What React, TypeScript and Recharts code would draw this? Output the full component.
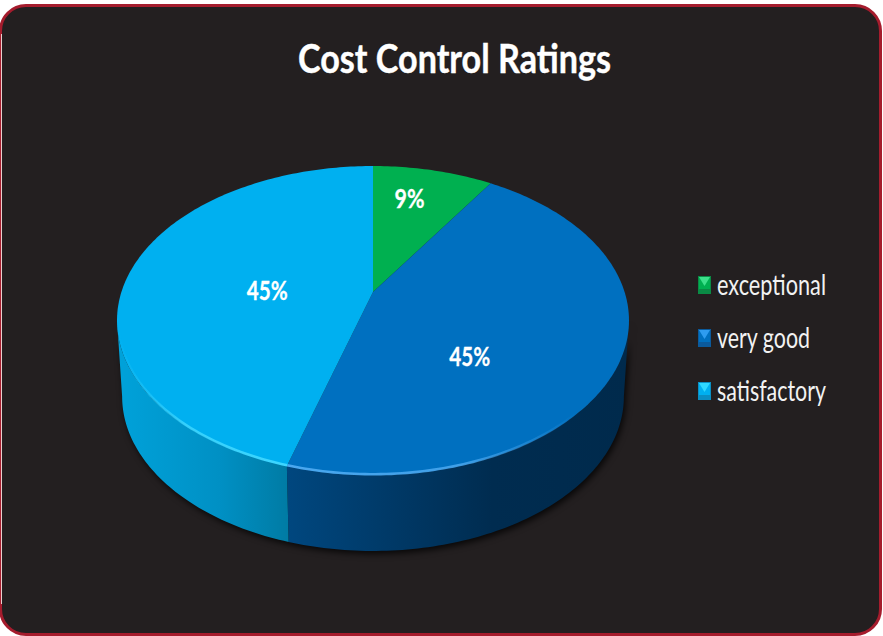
import React from "react";
import { PieChart, Pie, Legend } from "recharts";

const categories = ["exceptional", "very good", "satisfactory"];
const values = [1, 5, 5];
const sliceColors = ["#00B050", "#0070C0", "#00B0F0"];
const wallStops = [
  ["#007A38", "#005A2A", "#004A22"],
  ["#00477F", "#002C50", "#002A4C"],
  ["#00A2DA", "#0090C4", "#007BA4"],
];
const rimColors = ["#00B050", "#4AA8F0", "#3DD6FF"];
const keyLight = ["#3CE08A", "#2E9CF0", "#2FD8FF"];
const keyDark = ["#0A8A45", "#0B5A9C", "#0A8FC4"];
const legendTextWidths = [109, 93, 109];
const labelNudges = [
  [7, -35],
  [-10, 35],
  [5, 7],
];

const rows = categories.map((name, i) => ({ name, value: values[i], fill: sliceColors[i] }));

const CX = 373;
const CY = 292;
const RADIUS = 251.6;
const TILT = 0.593;
const PERSP = 0.1845;
const DEPTH = 76;
const SHRINK = 0.98;
const FRONT_FROM = 100.6;
const FRONT_TO = 259.4;
const FONT = "Lato, 'Open Sans', sans-serif";

function project(cx: number, cy: number, r: number, thetaDeg: number, f = 1) {
  const t = (thetaDeg * Math.PI) / 180;
  const u = Math.cos(t) * f;
  const v = Math.sin(t) * f;
  const d = 1 + PERSP * u;
  return { x: cx + (r * v) / d, y: cy - (r * TILT * u) / d };
}

function arc(cx: number, cy: number, r: number, a: number, b: number) {
  const pts: { x: number; y: number }[] = [];
  const n = Math.max(2, Math.ceil(Math.abs(b - a)));
  for (let i = 0; i <= n; i++) pts.push(project(cx, cy, r, a + ((b - a) * i) / n));
  return pts;
}

const toD = (pts: { x: number; y: number }[]) =>
  pts.map((p, i) => `${i ? "L" : "M"}${p.x.toFixed(2)} ${p.y.toFixed(2)}`).join(" ");

function WallShape(props: any) {
  const { cx, cy, outerRadius, startAngle, endAngle, index } = props;
  const a = Math.max(90 - startAngle, FRONT_FROM);
  const b = Math.min(90 - endAngle, FRONT_TO);
  if (b <= a) return <g />;
  const top = arc(cx, cy, outerRadius, a, b);
  const bottom = top
    .map((p) => ({ x: cx + (p.x - cx) * SHRINK, y: p.y + DEPTH }))
    .reverse();
  const id = `wall-${index}`;
  const stops = wallStops[index];
  return (
    <g>
      <defs>
        <linearGradient id={id} x1="0" y1="0" x2="1" y2="0">
          <stop offset="0%" stopColor={stops[0]} />
          <stop offset="60%" stopColor={stops[1]} />
          <stop offset="100%" stopColor={stops[2]} />
        </linearGradient>
      </defs>
      <path d={`${toD(top)} ${toD(bottom).replace("M", "L")} Z`} fill={`url(#${id})`} stroke="none" />
    </g>
  );
}

function TopShape(props: any) {
  const { cx, cy, outerRadius, startAngle, endAngle, fill, index } = props;
  const a = 90 - startAngle;
  const b = 90 - endAngle;
  const edge = arc(cx, cy, outerRadius, a, b);
  const d = `M${cx} ${cy} ${toD(edge).replace("M", "L")} Z`;
  const rimFrom = index === 1 ? 135 : a;
  const rimTo = index === 2 ? 258 : b;
  const rim = index === 0 ? null : arc(cx, cy, outerRadius - 1, rimFrom, rimTo);
  const id = `rim-${index}`;
  return (
    <g>
      <defs>
        <linearGradient id={id} x1={index === 1 ? "1" : "0"} y1="0" x2={index === 1 ? "0" : "1"} y2="0">
          <stop offset="0%" stopColor={rimColors[index]} stopOpacity={0} />
          <stop offset="40%" stopColor={rimColors[index]} stopOpacity="0.85" />
          <stop offset="100%" stopColor={rimColors[index]} stopOpacity="1" />
        </linearGradient>
        <filter id="rim-blur" x="-5%" y="-5%" width="110%" height="110%">
          <feGaussianBlur stdDeviation="0.7" />
        </filter>
      </defs>
      <path d={d} fill={fill} stroke="none" />
      {rim && <path d={toD(rim)} fill="none" stroke={`url(#${id})`} strokeWidth={2.6} filter="url(#rim-blur)" />}
    </g>
  );
}

function PercentLabel(props: any) {
  const { cx, cy, outerRadius, midAngle, percent, index } = props;
  const p = project(cx, cy, outerRadius, 90 - midAngle, 0.45);
  const [dx, dy] = labelNudges[index];
  return (
    <text
      x={p.x + dx}
      y={p.y + dy}
      textAnchor="middle"
      dominantBaseline="central"
      fill="#FFFFFF"
      fontFamily={FONT}
      fontWeight={700}
      fontSize={27}
      stroke="#FFFFFF"
      strokeWidth={0.3}
      textLength={index === 0 ? 30 : 41}
      lengthAdjust="spacingAndGlyphs"
    >
      {`${Math.round(percent * 100)}%`}
    </text>
  );
}

function LegendKey({ x, y, i }: { x: number; y: number; i: number }) {
  return (
    <g>
      <rect x={x} y={y} width={13} height={18} fill={keyDark[i]} />
      <rect x={x + 1} y={y + 1} width={11} height={12} fill={sliceColors[i]} />
      <polygon points={`${x + 1},${y + 1} ${x + 12},${y + 1} ${x + 6.5},${y + 10}`} fill={keyLight[i]} />
    </g>
  );
}

function LegendBox() {
  return (
    <svg width={180} height={150} style={{ display: "block" }}>
      {rows.map((it, i) => (
        <g key={it.name}>
          <LegendKey x={0} y={6 + i * 53} i={i} />
          <text
            x={19}
            y={25 + i * 53}
            fill="#F2F2F2"
            fontFamily={FONT}
            fontSize={29}
            textLength={legendTextWidths[i]}
            lengthAdjust="spacingAndGlyphs"
          >
            {it.name}
          </text>
        </g>
      ))}
    </svg>
  );
}

export default function App() {
  return (
    <div style={{ position: "absolute", left: 0, top: 0, width: 883, height: 636, background: "#FFFFFF", overflow: "hidden" }}>
      <div
        style={{
          position: "absolute",
          left: -1,
          top: 4,
          width: 883,
          height: 632,
          boxSizing: "border-box",
          background: "#231F20",
          border: "3px solid #A51C2D",
          borderRadius: 27,
        }}
      />
      <div style={{ position: "absolute", left: 1, top: 34, width: 1, height: 570, background: "#E9CFCF" }} />
      <style>{`.recharts-pie.wall-layer { filter: drop-shadow(2px 3px 3px rgba(0,0,0,0.75)); }`}</style>
      <PieChart width={883} height={636} margin={{ top: 0, right: 0, bottom: 0, left: 0 }} style={{ position: "absolute", left: 0, top: 0 }}>
        <text
          x={298}
          y={73}
          fill="#FFFFFF"
          stroke="#FFFFFF"
          strokeWidth={0.4}
          fontFamily={FONT}
          fontWeight={700}
          fontSize={40}
          textLength={313}
          lengthAdjust="spacingAndGlyphs"
        >
          Cost Control Ratings
        </text>
        <Pie
          className="wall-layer"
          data={rows}
          dataKey="value"
          nameKey="name"
          cx={CX}
          cy={CY}
          innerRadius={0}
          outerRadius={RADIUS}
          startAngle={90}
          endAngle={-270}
          stroke="none"
          legendType="none"
          isAnimationActive={false}
          shape={WallShape}
        />
        <Pie
          data={rows}
          dataKey="value"
          nameKey="name"
          cx={CX}
          cy={CY}
          innerRadius={0}
          outerRadius={RADIUS}
          startAngle={90}
          endAngle={-270}
          stroke="none"
          isAnimationActive={false}
          shape={TopShape}
          label={PercentLabel}
          labelLine={false}
        />
        <Legend
          layout="vertical"
          align="right"
          verticalAlign="middle"
          content={LegendBox}
          wrapperStyle={{ position: "absolute", left: 698, top: 270, right: "auto", bottom: "auto", width: 180, height: 150 }}
        />
      </PieChart>
    </div>
  );
}
